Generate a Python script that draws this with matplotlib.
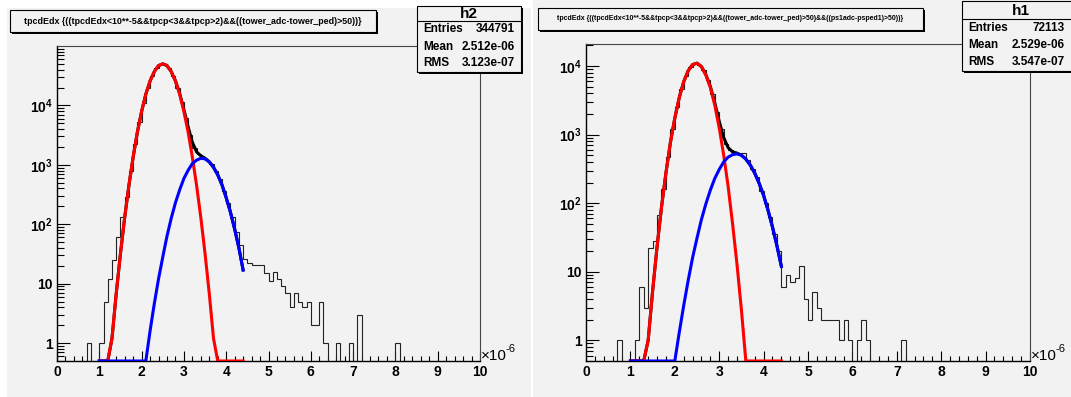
import numpy as np
import matplotlib
matplotlib.use("Agg")
import matplotlib.pyplot as plt
from matplotlib.patches import Rectangle
from matplotlib.ticker import FixedLocator, FixedFormatter, MultipleLocator

# ---- data ----
# histogram contents, 100 bins of 0.1 between 0 and 10 (x10^-6)
h2_counts = [
    0, 0, 0, 0, 0, 0, 0, 1, 0, 0,
    1, 5, 12, 25, 60, 135, 290, 800, 2200, 5300,
    11000, 19500, 31000, 42000, 49000, 49000, 42000, 31000, 20000, 11500,
    6100, 3200, 1900, 1500, 1350, 1200, 1030, 800, 570, 370,
    230, 130, 75, 45, 26, 22, 21, 21, 21, 15,
    11, 16, 12, 9, 7, 4, 7, 5, 4, 5,
    2, 2, 5, 1, 0, 0, 1, 0, 0, 1,
    0, 3, 0, 0, 0, 0, 0, 0, 0, 0,
    1, 0, 0, 0, 0, 0, 0, 0, 0, 0,
    0, 0, 0, 0, 0, 0, 0, 0, 0, 0,
]
h1_counts = [
    0, 0, 0, 0, 0, 0, 0, 1, 0, 0,
    0, 1, 6, 3, 22, 28, 68, 160, 470, 1200,
    2500, 4600, 7200, 9600, 10900, 10500, 8700, 6200, 3900, 2170,
    1190, 740, 590, 550, 530, 540, 420, 320, 240, 150,
    100, 62, 35, 20, 6, 9, 7, 8, 12, 4,
    2, 5, 3, 2, 2, 2, 2, 1, 2, 1,
    0, 1, 2, 1, 0, 0, 0, 0, 0, 0,
    0, 1, 0, 0, 0, 0, 0, 0, 0, 0,
    0, 0, 0, 0, 0, 0, 0, 0, 0, 0,
    0, 0, 0, 0, 0, 0, 0, 0, 0, 0,
]

# fit curves, sampled at 1.0, 1.1, ... 4.4
h2_red = [0.003, 0.027, 0.19, 1.2, 6.8, 32, 130, 450, 1350, 3550,
          7900, 15500, 25700, 37000, 46800, 50000, 46800, 37000, 25700, 15500,
          7900, 3550, 1350, 450, 130, 32, 6.8, 1.2, 0.19, 0.027,
          0.003, 2e-4, 1e-5, 5e-7, 2e-8]
h2_blue = [4e-9, 4e-8, 3e-7, 2e-6, 1.3e-5, 8e-5, 4e-4, 2e-3, 0.01, 0.039,
           0.15, 0.5, 1.6, 4.6, 12, 28, 63, 126, 230, 380,
           590, 810, 1050, 1200, 1290, 1260, 1120, 910, 680, 460,
           280, 160, 83, 40, 17]
h1_red = [3e-4, 2.8e-3, 0.023, 0.17, 1.0, 5.2, 23, 87, 275, 760,
          1740, 3470, 5900, 8500, 10500, 11000, 9800, 7400, 4900, 2700,
          1260, 510, 178, 51, 13, 2.8, 0.5, 0.078, 0.01, 1.1e-3,
          1e-4, 8e-6, 5e-7, 3e-8, 1e-9]
h1_blue = [5.5e-7, 3e-6, 1.5e-5, 7e-5, 3e-4, 1.3e-3, 5e-3, 0.018, 0.058, 0.18,
           0.5, 1.3, 3.2, 7.4, 16, 31, 58, 98, 155, 230,
           310, 400, 470, 510, 525, 500, 440, 360, 275, 195,
           130, 79, 45, 24, 12]

titles = ["tpcdEdx {((tpcdEdx<10**-5&&tpcp<3&&tpcp>2)&&((tower_adc-tower_ped)>50))}",
          "tpcdEdx {((tpcdEdx<10**-5&&tpcp<3&&tpcp>2)&&((tower_adc-tower_ped)>50)&&((ps1adc-psped1)>50))}"]
stat_names = ["h2", "h1"]
stat_rows = [[("Entries", "344791"), ("Mean", "2.512e-06"), ("RMS", "3.123e-07")],
             [("Entries", "72113"), ("Mean", "2.529e-06"), ("RMS", "3.547e-07")]]
ytick_vals = [1, 10, 100, 1000, 10000]
ytick_labels = ["1", "10", "$10^{2}$", "$10^{3}$", "$10^{4}$"]

W, H = 1071, 397
BG = "#f2f2f2"

plt.rcParams["font.family"] = ["Liberation Sans", "DejaVu Sans"]
plt.rcParams["mathtext.fontset"] = "custom"
plt.rcParams["mathtext.rm"] = "Liberation Sans:bold"
plt.rcParams["mathtext.it"] = "Liberation Sans:bold"
plt.rcParams["mathtext.bf"] = "Liberation Sans:bold"

fig = plt.figure(figsize=(W / 100, H / 100), dpi=100)
fig.patch.set_facecolor("white")


def box(x0, y0, x1, y1, **kw):
    # rectangle given in pixel coords measured from top-left
    r = Rectangle((x0 / W, 1 - y1 / H), (x1 - x0) / W, (y1 - y0) / H,
                  transform=fig.transFigure, **kw)
    fig.add_artist(r)
    return r


def ftext(x, y, s, **kw):
    return fig.text(x / W, 1 - y / H, s, **kw)


# canvases
box(7, 8, 531, 397, facecolor=BG, edgecolor="none", zorder=0)
box(533, 0, 1071, 397, facecolor=BG, edgecolor="none", zorder=0)

edges = np.linspace(0, 10, 101)
fit_x = np.linspace(1.0, 4.4, 35)

panels = [
    dict(rect=(57, 46, 480, 361), ymax=1.0e5, counts=h2_counts, red=h2_red, blue=h2_blue,
         tbox=(10, 10, 376, 32), tsize=6.4, sbox=(417, 6, 521, 72), hdr=21),
    dict(rect=(586, 44, 1030, 361), ymax=2.1e4, counts=h1_counts, red=h1_red, blue=h1_blue,
         tbox=(538, 8, 923, 30), tsize=5.0, sbox=(962, 1, 1080, 71), hdr=19),
]

for i, p in enumerate(panels):
    x0, y0, x1, y1 = p["rect"]
    ax = fig.add_axes([x0 / W, 1 - y1 / H, (x1 - x0) / W, (y1 - y0) / H])
    ax.set_facecolor(BG)
    ax.set_yscale("log")
    ax.set_xlim(0, 10)
    ax.set_ylim(0.5, p["ymax"])

    counts = np.maximum(np.array(p["counts"], float), 0.05)
    ax.stairs(counts, edges, baseline=None, color="#222222", lw=0.8, zorder=2)

    red = np.array(p["red"])
    blue = np.array(p["blue"])
    ymin = 0.5
    ax.plot(fit_x, np.clip(red + blue, ymin, None), color="black", lw=2.2, zorder=3)
    ax.plot(fit_x, np.clip(red, ymin, None), color="#ff0000", lw=2.2, zorder=4,
            solid_joinstyle="round")
    ax.plot(fit_x, np.clip(blue, ymin, None), color="#0000ff", lw=2.2, zorder=5,
            solid_joinstyle="round")

    for s in ax.spines.values():
        s.set_linewidth(0.8)
        s.set_color("#444444")
    ax.spines["left"].set_color("black")
    ax.spines["bottom"].set_color("black")
    ax.spines["left"].set_linewidth(1.0)
    ax.spines["bottom"].set_linewidth(1.0)

    ax.xaxis.set_major_locator(MultipleLocator(1))
    ax.xaxis.set_minor_locator(MultipleLocator(0.2))
    ax.yaxis.set_major_locator(FixedLocator(ytick_vals))
    ax.yaxis.set_major_formatter(FixedFormatter(ytick_labels))
    minor = [m * 10.0 ** e for e in range(-1, 5) for m in range(2, 10)]
    ax.yaxis.set_minor_locator(FixedLocator([v for v in minor if 0.5 <= v <= p["ymax"]]))
    ax.yaxis.set_minor_formatter(FixedFormatter([]))
    ax.tick_params(axis="x", which="major", direction="in", length=7.2, width=0.8,
                   labelsize=10, pad=3, top=False)
    ax.tick_params(axis="x", which="minor", direction="in", length=3.8, width=0.8, top=False)
    ax.tick_params(axis="y", which="major", direction="in", length=9.4, width=0.8,
                   labelsize=10, pad=3, right=False)
    ax.tick_params(axis="y", which="minor", direction="in", length=5.0, width=0.8, right=False)
    for lab in ax.get_xticklabels() + ax.get_yticklabels():
        lab.set_fontweight("bold")

    # x10^-6 exponent at the end of the x axis
    ftext(x1 + 1, y1 - 1, "\u00d710", fontsize=11, va="baseline", ha="left")
    ftext(x1 + 25, y1 - 9, "-6", fontsize=8, va="baseline", ha="left")

    # title box with shadow
    tx0, ty0, tx1, ty1 = p["tbox"]
    box(tx0 + 2, ty0 + 2, tx1 + 2, ty1 + 2, facecolor="black", edgecolor="none", zorder=10)
    box(tx0, ty0, tx1, ty1, facecolor=BG, edgecolor="black", lw=0.8, zorder=11)
    ftext((tx0 + tx1) / 2, (ty0 + ty1) / 2, titles[i], fontsize=p["tsize"],
          fontweight="bold", ha="center", va="center", zorder=12)

    # stats box with shadow
    sx0, sy0, sx1, sy1 = p["sbox"]
    box(sx0 + 2, sy0 + 2, sx1 + 2, sy1 + 2, facecolor="black", edgecolor="none", zorder=10)
    box(sx0, sy0, sx1, sy1, facecolor=BG, edgecolor="black", lw=0.8, zorder=11)
    hdr = p["hdr"]
    fig.add_artist(plt.Line2D([sx0 / W, sx1 / W], [1 - hdr / H, 1 - hdr / H],
                              transform=fig.transFigure, color="black", lw=0.8, zorder=12))
    ftext((sx0 + sx1) / 2, (sy0 + hdr) / 2 + 1, stat_names[i], fontsize=11,
          fontweight="bold", ha="center", va="center", zorder=12)
    row_h = (sy1 - hdr) / 3
    for k, (name, val) in enumerate(stat_rows[i]):
        yy = hdr + row_h * (k + 0.5)
        ftext(sx0 + 6, yy, name, fontsize=8.5, fontweight="bold", ha="left",
              va="center", zorder=12)
        ftext(min(sx1, W) - 6, yy, val, fontsize=8.5, fontweight="bold", ha="right",
              va="center", zorder=12)

fig.savefig("out.png", dpi=100, facecolor=fig.get_facecolor())
